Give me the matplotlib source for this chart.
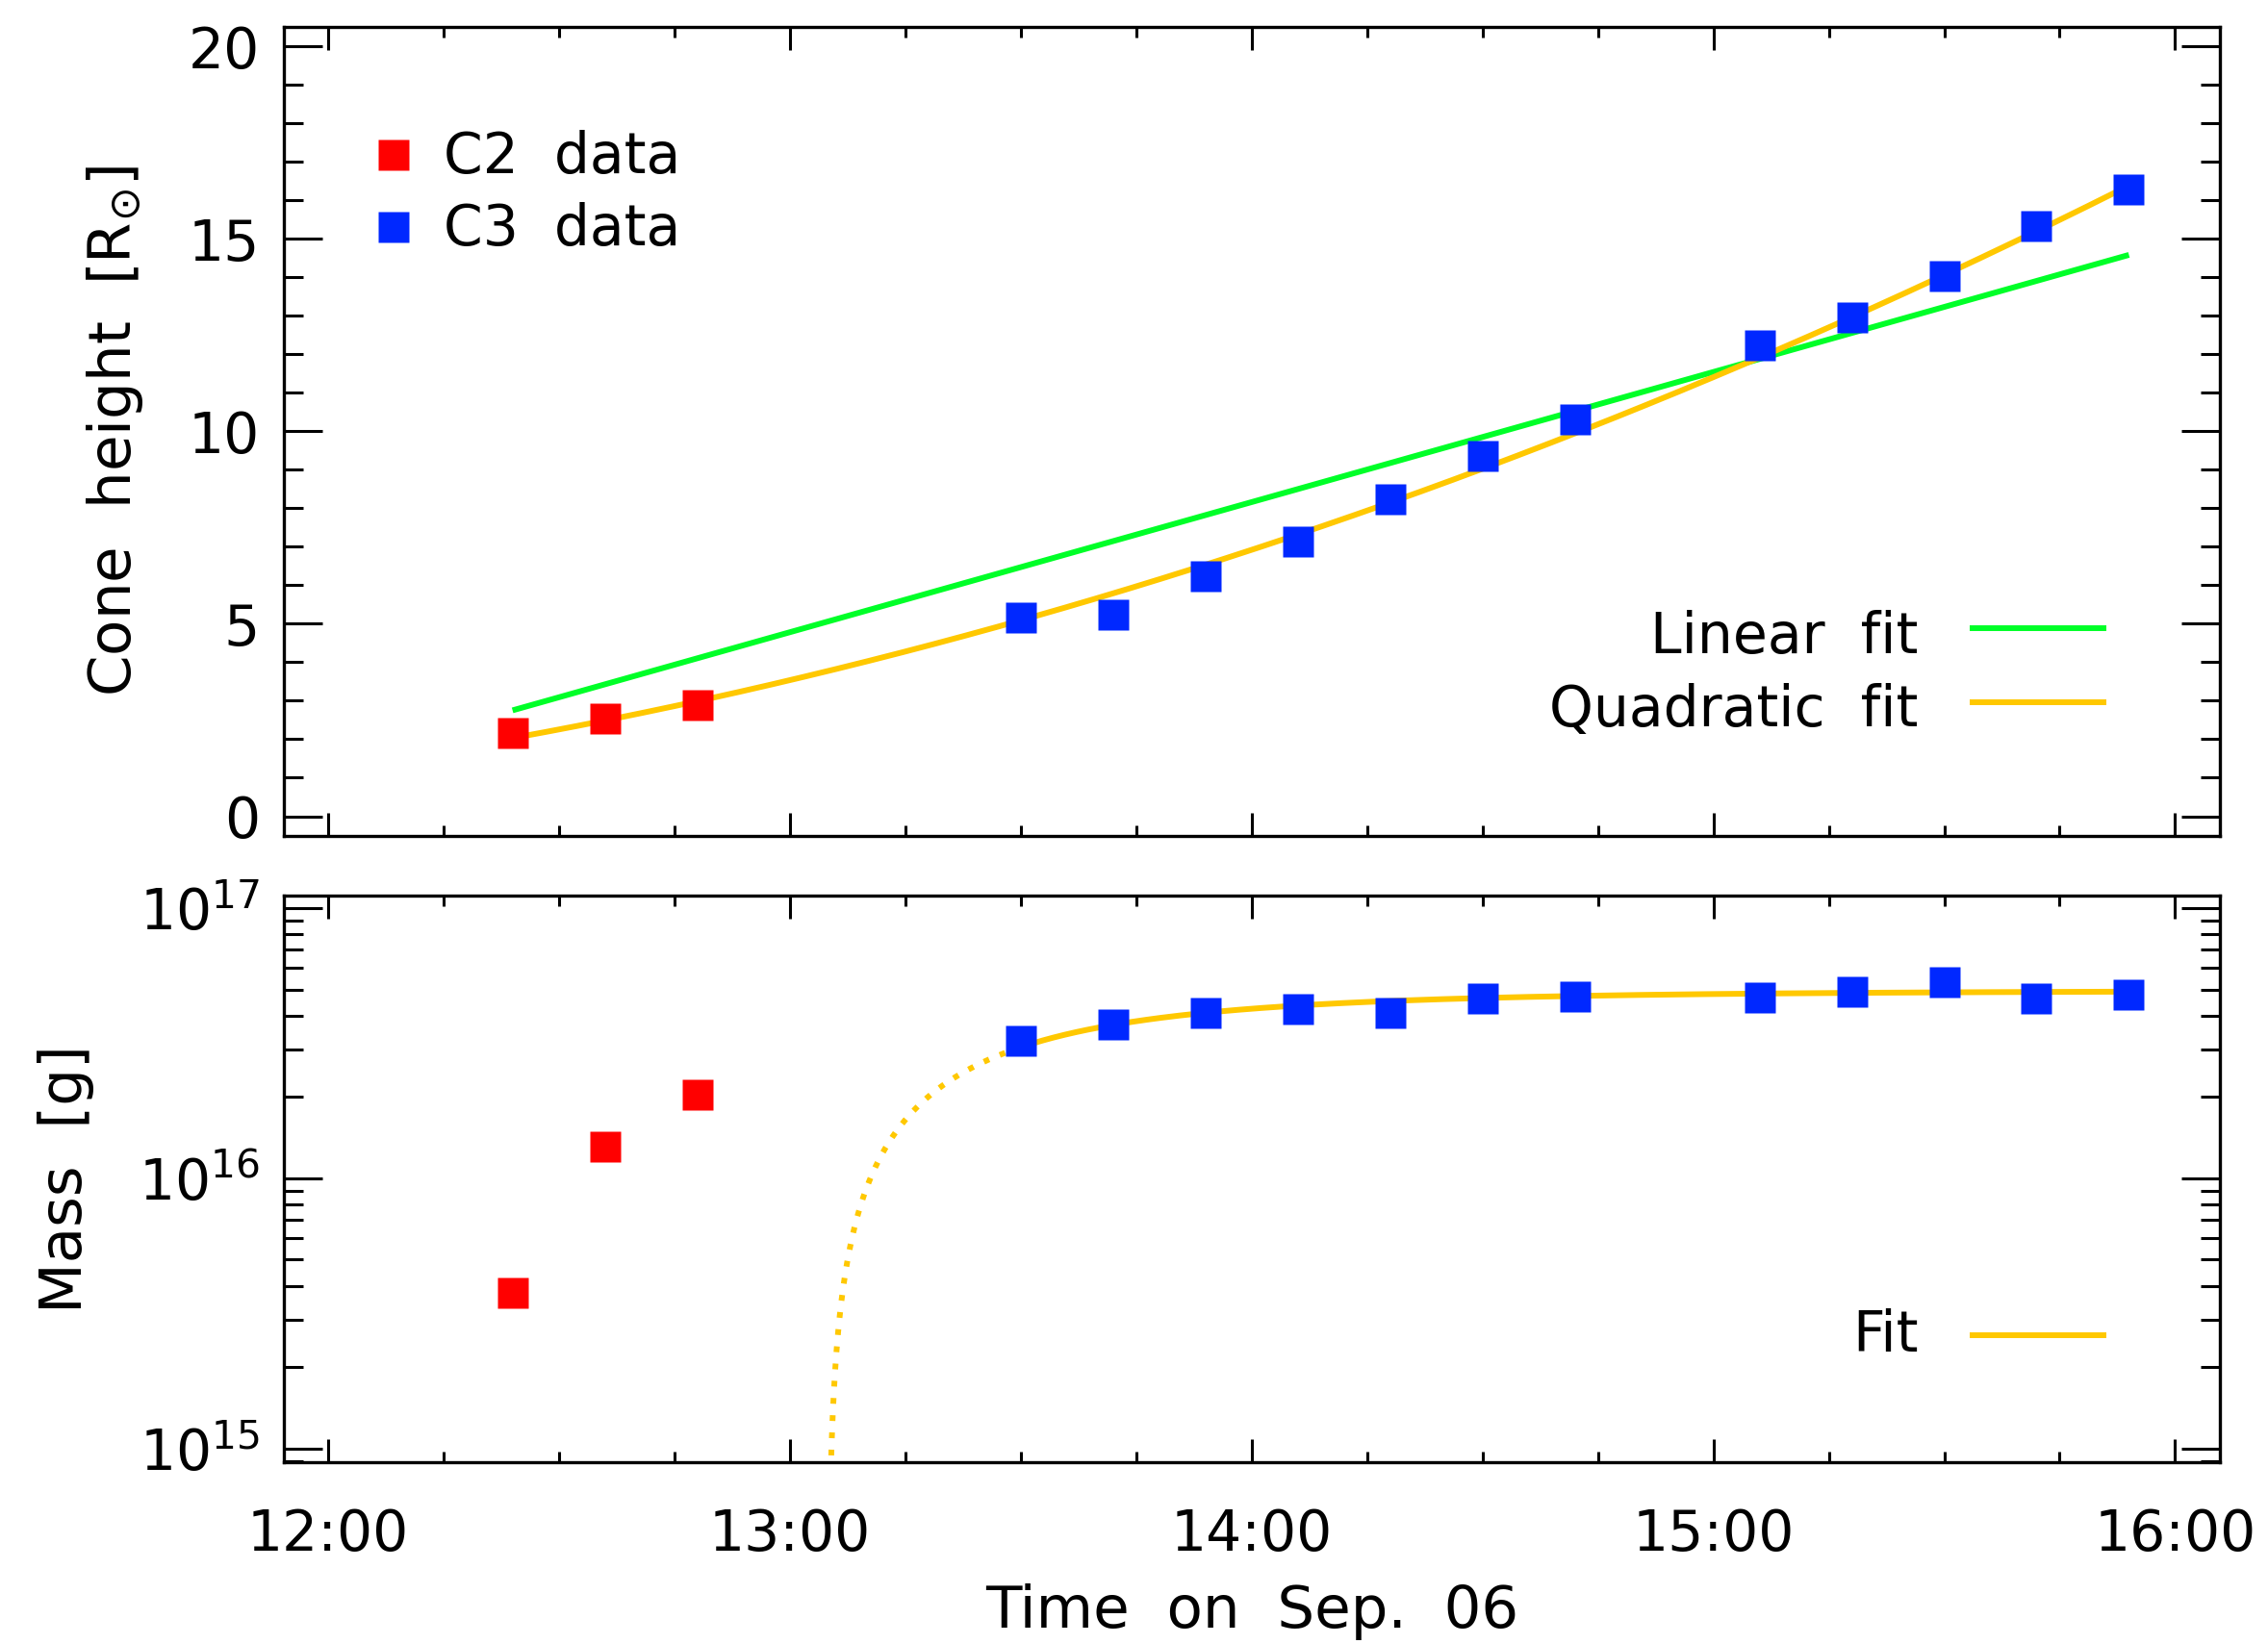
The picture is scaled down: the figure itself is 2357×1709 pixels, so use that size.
import numpy as np
import matplotlib
matplotlib.use("Agg")
import matplotlib.pyplot as plt
from matplotlib.ticker import MultipleLocator, FuncFormatter, LogLocator, NullFormatter

# ---------------- data ----------------
c2_times = ["12:24", "12:36", "12:48"]
c3_times = ["13:30", "13:42", "13:54", "14:06", "14:18", "14:30", "14:42",
            "15:06", "15:18", "15:30", "15:42", "15:54"]

c2_height = [2.17, 2.54, 2.88]
c3_height = [5.15, 5.23, 6.23, 7.13, 8.23, 9.36, 10.30, 12.23, 12.95, 14.04, 15.34, 16.28]

c2_mass = [3.77e15, 1.31e16, 2.04e16]
c3_mass = [3.22e16, 3.72e16, 4.09e16, 4.22e16, 4.09e16, 4.64e16, 4.72e16,
           4.66e16, 4.89e16, 5.31e16, 4.64e16, 4.80e16]

# fit parameters
linear_fit_ends = [2.75, 14.58]            # heights at first and last time
quad_fit_coef = [2.03, 2.175, 0.55]        # h = a + b*u + c*u^2, u = hours after 12:24
mass_fit_params = [4.95e16, 3.77, 3.2]     # M_inf, h0, exponent: M = M_inf*(1-(h0/h)^n)
mass_fit_solid_start = "13:30"

x_tick_labels = ["12:00", "13:00", "14:00", "15:00", "16:00"]


def to_hours(s):
    h, m = s.split(":")
    return int(h) - 12 + int(m) / 60.0


t2 = np.array([to_hours(s) for s in c2_times])
t3 = np.array([to_hours(s) for s in c3_times])
t_first, t_last = t2[0], t3[-1]

tt = np.linspace(t_first, t_last, 400)
u = tt - t_first
h_lin = linear_fit_ends[0] + (linear_fit_ends[1] - linear_fit_ends[0]) * u / (t_last - t_first)


def h_quad(t):
    uu = t - t_first
    return quad_fit_coef[0] + quad_fit_coef[1] * uu + quad_fit_coef[2] * uu ** 2


def mass_fit(t):
    m = mass_fit_params[0] * (1 - (mass_fit_params[1] / h_quad(t)) ** mass_fit_params[2])
    return np.where(m > 0, m, np.nan)


# ---------------- style ----------------
RED = "#ff0000"
BLUE = "#0028ff"
GREEN = "#00ff28"
ORANGE = "#ffc800"
FS = 42
LW = 4.3
MS = 23

plt.rcParams["font.family"] = ["DejaVu Sans"]
plt.rcParams["mathtext.fontset"] = "dejavusans"

fig = plt.figure(figsize=(23.57, 17.09), dpi=100)
ax1 = fig.add_axes([0.1252, 0.4918, 0.9788 - 0.1252, 0.9836 - 0.4918])
ax2 = fig.add_axes([0.1252, 0.1106, 0.9788 - 0.1252, 0.4551 - 0.1106])

xlim = (-0.095, 4.097)

for ax in (ax1, ax2):
    ax.set_xlim(*xlim)
    for sp in ax.spines.values():
        sp.set_linewidth(2.4)
    ax.xaxis.set_major_locator(MultipleLocator(1.0))
    ax.xaxis.set_minor_locator(MultipleLocator(0.25))
    ax.tick_params(axis="both", which="both", direction="in", top=True, right=True,
                   width=2.2, labelsize=FS)
    ax.tick_params(axis="x", which="major", length=17.5, pad=34)
    ax.tick_params(axis="x", which="minor", length=8)
    ax.tick_params(axis="y", which="major", length=29, pad=18)
    ax.tick_params(axis="y", which="minor", length=14.5)

# ---------------- top panel ----------------
ax1.set_ylim(-0.5, 20.5)
ax1.yaxis.set_major_locator(MultipleLocator(5))
ax1.yaxis.set_minor_locator(MultipleLocator(1))
ax1.tick_params(axis="x", labelbottom=False)

ax1.plot(tt, h_lin, color=GREEN, lw=LW, solid_capstyle="butt", zorder=2)
ax1.plot(tt, h_quad(tt), color=ORANGE, lw=LW, solid_capstyle="butt", zorder=2)
ax1.plot(t2, c2_height, ls="none", marker="s", ms=MS, mfc=RED, mec="none", zorder=3)
ax1.plot(t3, c3_height, ls="none", marker="s", ms=MS, mfc=BLUE, mec="none", zorder=3)
ax1.set_ylabel(r"Cone  height  [R$_{\odot}$]", fontsize=44, labelpad=32)

# legend (upper left)
ax1.plot([0.0564], [0.8417], transform=ax1.transAxes, marker="s", ms=MS, mfc=RED, mec="none")
ax1.plot([0.0564], [0.7524], transform=ax1.transAxes, marker="s", ms=MS, mfc=BLUE, mec="none")
ax1.text(0.0825, 0.8385, "C2  data", transform=ax1.transAxes, fontsize=FS, va="center", ha="left")
ax1.text(0.0825, 0.7492, "C3  data", transform=ax1.transAxes, fontsize=FS, va="center", ha="left")
# legend (lower right)
ax1.plot([0.8708, 0.9414], [0.2560, 0.2560], transform=ax1.transAxes, color=GREEN, lw=LW,
         solid_capstyle="butt")
ax1.plot([0.8708, 0.9414], [0.1643, 0.1643], transform=ax1.transAxes, color=ORANGE, lw=LW,
         solid_capstyle="butt")
ax1.text(0.8443, 0.2450, "Linear  fit", transform=ax1.transAxes, fontsize=FS, va="center", ha="right")
ax1.text(0.8443, 0.1550, "Quadratic  fit", transform=ax1.transAxes, fontsize=FS, va="center", ha="right")

# ---------------- bottom panel ----------------
ax2.set_yscale("log")
ax2.set_ylim(8.9e14, 1.11e17)
ax2.yaxis.set_major_locator(LogLocator(base=10, numticks=10))
ax2.yaxis.set_minor_locator(LogLocator(base=10, subs=np.arange(2, 10), numticks=10))
ax2.yaxis.set_minor_formatter(NullFormatter())
ax2.set_xticks(np.arange(0, 5))
ax2.xaxis.set_major_formatter(FuncFormatter(lambda v, p: x_tick_labels[int(round(v))]
                                             if 0 <= round(v) < len(x_tick_labels) else ""))

t_solid0 = to_hours(mass_fit_solid_start)
td = np.linspace(1.0, t_solid0, 600)
ts = np.linspace(t_solid0, t_last, 300)
ax2.plot(td, mass_fit(td), color=ORANGE, lw=LW, ls=(0, (1, 2)), dash_capstyle="butt", zorder=2)
ax2.plot(ts, mass_fit(ts), color=ORANGE, lw=LW, solid_capstyle="butt", zorder=2)
ax2.plot(t2, c2_mass, ls="none", marker="s", ms=MS, mfc=RED, mec="none", zorder=3)
ax2.plot(t3, c3_mass, ls="none", marker="s", ms=MS, mfc=BLUE, mec="none", zorder=3)
ax2.set_ylabel("Mass  [g]", fontsize=44, labelpad=33)
ax2.set_xlabel("Time  on  Sep.  06", fontsize=44, labelpad=16)

ax2.plot([0.8708, 0.9414], [0.2238, 0.2238], transform=ax2.transAxes, color=ORANGE, lw=LW,
         solid_capstyle="butt")
ax2.text(0.8443, 0.2238, "Fit", transform=ax2.transAxes, fontsize=FS, va="center", ha="right")

fig.savefig("out.png", dpi=100)
